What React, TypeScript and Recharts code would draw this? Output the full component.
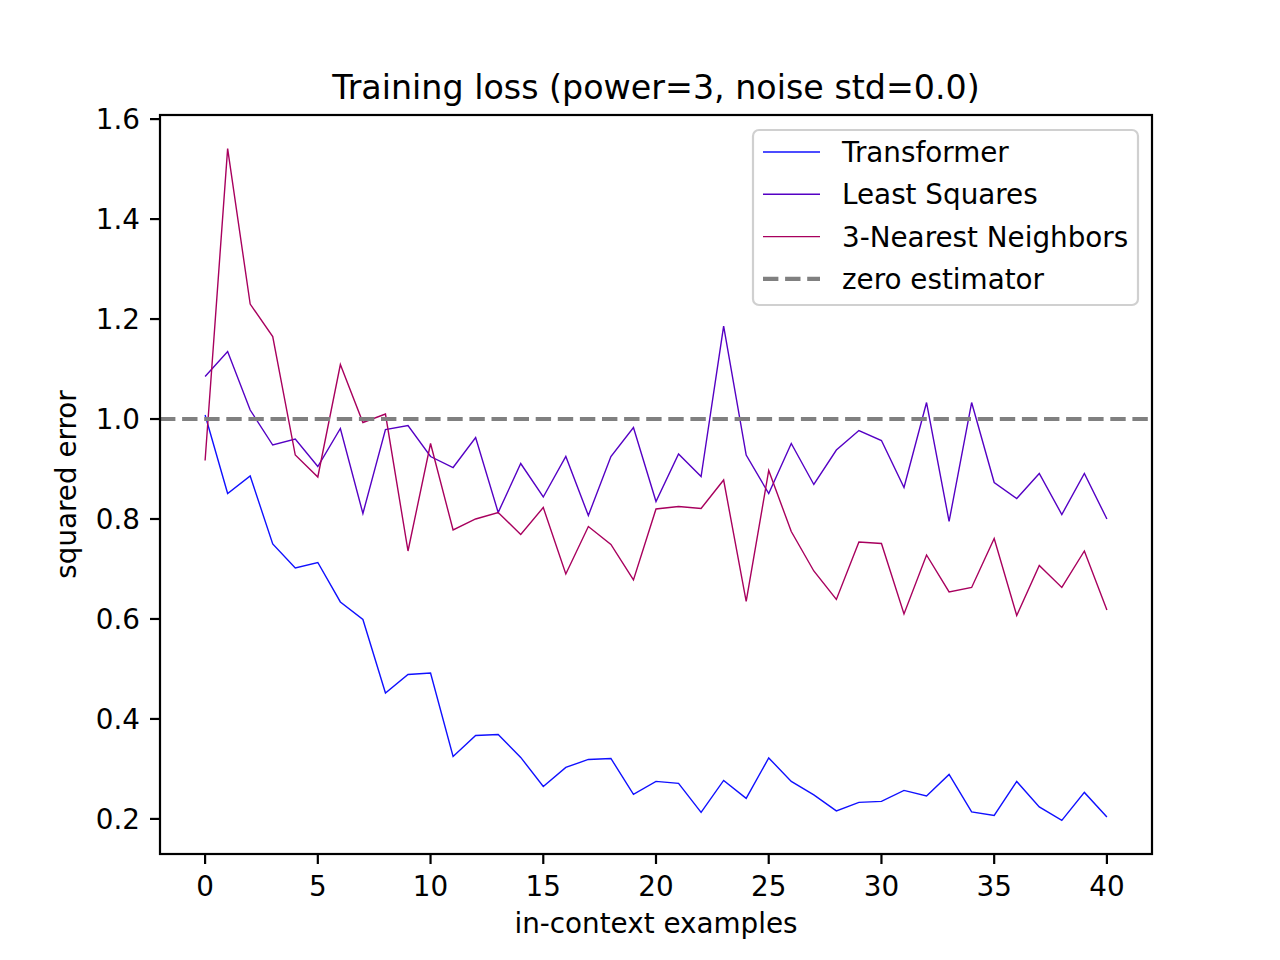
import React from "react";
import {
  LineChart,
  Line,
  XAxis,
  YAxis,
  ReferenceLine,
} from "recharts";

const TITLE = "Training loss (power=3, noise std=0.0)";
const X_LABEL = "in-context examples";
const Y_LABEL = "squared error";

const SERIES_NAMES = ["Transformer", "Least Squares", "3-Nearest Neighbors"];
const SERIES_COLORS = ["#1010ff", "#5500c4", "#a8005e"];
const ZERO_LABEL = "zero estimator";

const X_TICKS = [0, 5, 10, 15, 20, 25, 30, 35, 40];
const Y_TICKS = [0.2, 0.4, 0.6, 0.8, 1.0, 1.2, 1.4, 1.6];

const TRANSFORMER = [
  1.008, 0.851, 0.886, 0.75, 0.702, 0.713, 0.634, 0.599, 0.452, 0.489, 0.492,
  0.325, 0.367, 0.369, 0.323, 0.265, 0.303, 0.319, 0.321, 0.249, 0.275, 0.271,
  0.213, 0.277, 0.241, 0.322, 0.275, 0.248, 0.216, 0.233, 0.235, 0.257, 0.246,
  0.289, 0.214, 0.207, 0.275, 0.224, 0.197, 0.253, 0.204,
];

const LEAST_SQUARES = [
  1.085, 1.135, 1.018, 0.948, 0.96, 0.905, 0.981, 0.811, 0.979, 0.987, 0.925,
  0.903, 0.963, 0.813, 0.911, 0.844, 0.925, 0.807, 0.925, 0.983, 0.835, 0.93,
  0.885, 1.186, 0.928, 0.851, 0.951, 0.869, 0.938, 0.977, 0.957, 0.863, 1.033,
  0.795, 1.033, 0.873, 0.841, 0.891, 0.809, 0.891, 0.8,
];

const KNN = [
  0.917, 1.541, 1.23, 1.165, 0.928, 0.884, 1.109, 0.993, 1.01, 0.736, 0.951,
  0.778, 0.8, 0.813, 0.769, 0.823, 0.69, 0.785, 0.749, 0.678, 0.82, 0.825,
  0.821, 0.878, 0.635, 0.897, 0.775, 0.696, 0.639, 0.754, 0.751, 0.61, 0.728,
  0.654, 0.663, 0.761, 0.607, 0.707, 0.663, 0.736, 0.618,
];

const data = TRANSFORMER.map((t, i) => ({
  x: i,
  transformer: t,
  leastSquares: LEAST_SQUARES[i],
  knn: KNN[i],
}));

const FONT = "'DejaVu Sans', sans-serif";
const FS = 27.8;

// plot box (matplotlib axes) in page pixels
const LEFT = 160;
const TOP = 115;
const RIGHT = 1152;
const BOTTOM = 854;

function Overlay() {
  const rows = [
    { name: SERIES_NAMES[0], color: SERIES_COLORS[0], dash: undefined, w: 1.4 },
    { name: SERIES_NAMES[1], color: SERIES_COLORS[1], dash: undefined, w: 1.4 },
    { name: SERIES_NAMES[2], color: SERIES_COLORS[2], dash: undefined, w: 1.4 },
    { name: ZERO_LABEL, color: "#808080", dash: "15.4 6.7", w: 4.2 },
  ];
  return (
    <svg
      width={1280}
      height={960}
      style={{ position: "absolute", left: 0, top: 0, pointerEvents: "none" }}
    >
      <rect
        x={LEFT}
        y={TOP}
        width={RIGHT - LEFT}
        height={BOTTOM - TOP}
        fill="none"
        stroke="#000"
        strokeWidth={2.2}
      />
      <text
        x={(LEFT + RIGHT) / 2}
        y={99}
        textAnchor="middle"
        fontFamily={FONT}
        fontSize={33.3}
        fill="#000"
      >
        {TITLE}
      </text>
      <text
        x={(LEFT + RIGHT) / 2}
        y={933}
        textAnchor="middle"
        fontFamily={FONT}
        fontSize={FS}
        fill="#000"
      >
        {X_LABEL}
      </text>
      <text
        x={0}
        y={0}
        transform={`translate(76, ${(TOP + BOTTOM) / 2}) rotate(-90)`}
        textAnchor="middle"
        fontFamily={FONT}
        fontSize={FS}
        fill="#000"
      >
        {Y_LABEL}
      </text>
      <rect
        x={753}
        y={130}
        width={385}
        height={175}
        rx={6}
        fill="rgba(255,255,255,0.8)"
        stroke="#d0d0d0"
        strokeWidth={2.2}
      />
      {rows.map((r, i) => {
        const y = 152 + i * 42.3;
        return (
          <g key={r.name}>
            <line
              x1={763}
              x2={820}
              y1={y}
              y2={y}
              stroke={r.color}
              strokeWidth={r.w}
              strokeDasharray={r.dash}
            />
            <text x={842} y={y + 10} fontFamily={FONT} fontSize={FS} fill="#000">
              {r.name}
            </text>
          </g>
        );
      })}
    </svg>
  );
}

export default function App() {
  const tickStyle = { fill: "#000", fontSize: FS, fontFamily: FONT };
  return (
    <div
      style={{
        position: "absolute",
        left: 0,
        top: 0,
        width: 1280,
        height: 960,
        background: "#fff",
      }}
    >
      <LineChart
        width={1280}
        height={960}
        data={data}
        margin={{ top: TOP, right: 1280 - RIGHT, bottom: 960 - BOTTOM - 50, left: LEFT - 80 }}
        style={{ fontFamily: FONT }}
      >
        <XAxis
          dataKey="x"
          type="number"
          domain={[-2, 42]}
          ticks={X_TICKS}
          allowDataOverflow
          height={50}
          axisLine={false}
          tickSize={10}
          tickMargin={12}
          tickLine={{ stroke: "#000", strokeWidth: 2.2 }}
          tick={tickStyle}
        />
        <YAxis
          type="number"
          domain={[0.1298, 1.6082]}
          ticks={Y_TICKS}
          allowDataOverflow
          width={80}
          axisLine={false}
          tickSize={10}
          tickMargin={10}
          tickLine={{ stroke: "#000", strokeWidth: 2.2 }}
          tick={tickStyle}
          tickFormatter={(v: number) => v.toFixed(1)}
        />
        <Line
          dataKey="transformer"
          name={SERIES_NAMES[0]}
          type="linear"
          stroke={SERIES_COLORS[0]}
          strokeWidth={1.4}
          dot={false}
          isAnimationActive={false}
        />
        <Line
          dataKey="leastSquares"
          name={SERIES_NAMES[1]}
          type="linear"
          stroke={SERIES_COLORS[1]}
          strokeWidth={1.4}
          dot={false}
          isAnimationActive={false}
        />
        <Line
          dataKey="knn"
          name={SERIES_NAMES[2]}
          type="linear"
          stroke={SERIES_COLORS[2]}
          strokeWidth={1.4}
          dot={false}
          isAnimationActive={false}
        />
        <ReferenceLine
          y={1}
          stroke="#808080"
          strokeWidth={4.2}
          strokeDasharray="15.4 6.7"
        />
      </LineChart>
      <Overlay />
    </div>
  );
}
